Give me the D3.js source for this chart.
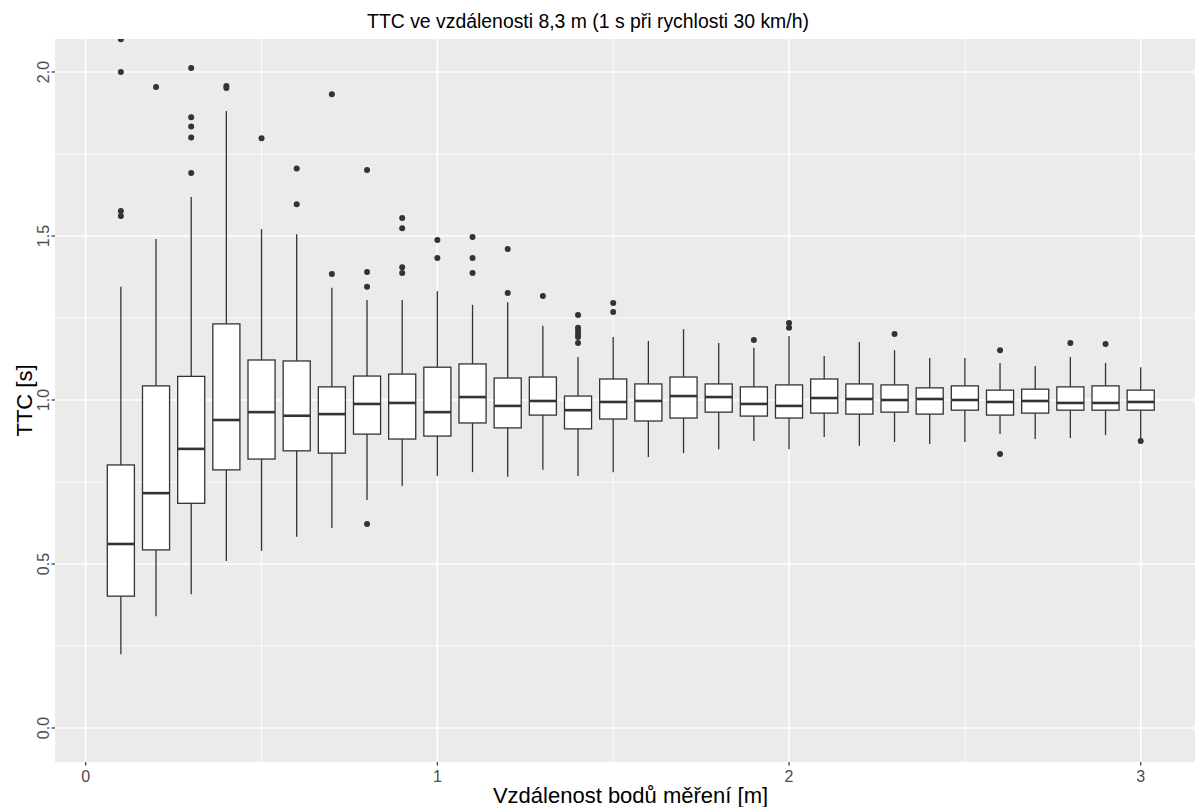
<!DOCTYPE html>
<html>
<head>
<meta charset="utf-8">
<script src="https://cdn.jsdelivr.net/npm/d3@7"></script>
<style>
  body { margin: 0; background: #fff; }
  svg { display: block; font-family: "Liberation Sans", Arial, sans-serif; }
</style>
</head>
<body>
<svg id="chart" width="1195" height="807"></svg>
<script>
// measurement distances [m]
const distances = [0.1, 0.2, 0.3, 0.4, 0.5, 0.6, 0.7, 0.8, 0.9, 1.0,
  1.1, 1.2, 1.3, 1.4, 1.5, 1.6, 1.7, 1.8, 1.9, 2.0,
  2.1, 2.2, 2.3, 2.4, 2.5, 2.6, 2.7, 2.8, 2.9, 3.0];

// box statistics, TTC [s]
const whiskerLow = [0.225, 0.341, 0.408, 0.509, 0.540, 0.583, 0.610, 0.695, 0.738, 0.768,
  0.780, 0.766, 0.787, 0.768, 0.780, 0.826, 0.838, 0.850, 0.875, 0.850,
  0.887, 0.860, 0.872, 0.866, 0.872, 0.896, 0.881, 0.884, 0.893, 0.881];
const q1 = [0.402, 0.543, 0.685, 0.787, 0.820, 0.845, 0.838, 0.896, 0.881, 0.890,
  0.930, 0.915, 0.954, 0.912, 0.942, 0.936, 0.945, 0.963, 0.951, 0.945,
  0.960, 0.957, 0.963, 0.957, 0.969, 0.954, 0.960, 0.969, 0.969, 0.969];
const median = [0.561, 0.716, 0.851, 0.939, 0.963, 0.952, 0.957, 0.988, 0.991, 0.963,
  1.009, 0.982, 0.997, 0.969, 0.994, 0.997, 1.012, 1.009, 0.988, 0.982,
  1.006, 1.003, 1.000, 1.003, 1.000, 0.994, 0.997, 0.991, 0.991, 0.994];
const q3 = [0.802, 1.043, 1.072, 1.232, 1.122, 1.119, 1.040, 1.073, 1.079, 1.100,
  1.110, 1.067, 1.070, 1.012, 1.064, 1.049, 1.070, 1.049, 1.040, 1.046,
  1.064, 1.049, 1.046, 1.037, 1.043, 1.030, 1.033, 1.040, 1.043, 1.030];
const whiskerHigh = [1.345, 1.491, 1.619, 1.881, 1.521, 1.505, 1.342, 1.305, 1.305, 1.332,
  1.290, 1.298, 1.226, 1.131, 1.192, 1.180, 1.216, 1.174, 1.159, 1.195,
  1.134, 1.177, 1.152, 1.128, 1.128, 1.113, 1.104, 1.131, 1.113, 1.100];
const outliers = [
  [1.561, 1.576, 2.0, 2.1],
  [1.954],
  [1.692, 1.80, 1.834, 1.862, 2.012],
  [1.951, 1.957],
  [1.798],
  [1.597, 1.706],
  [1.384, 1.932],
  [0.622, 1.345, 1.39, 1.701],
  [1.387, 1.405, 1.524, 1.555],
  [1.433, 1.488],
  [1.387, 1.433, 1.497],
  [1.326, 1.46],
  [1.317],
  [1.174, 1.192, 1.20, 1.21, 1.22, 1.259],
  [1.268, 1.296],
  [], [], [],
  [1.183],
  [1.22, 1.235],
  [], [],
  [1.201],
  [], [],
  [0.835, 1.152],
  [],
  [1.174],
  [1.171],
  [0.875]
];

const xTicks = [0, 1, 2, 3];
const xMinor = [0.5, 1.5, 2.5];
const yTicks = [0, 0.5, 1, 1.5, 2];
const yMinor = [0.25, 0.75, 1.25, 1.75];

const title = 'TTC ve vzdálenosti 8,3 m (1 s při rychlosti 30 km/h)';
const xTitle = 'Vzdálenost bodů měření [m]';
const yTitle = 'TTC [s]';

const panel = { left: 55, top: 39, right: 1195, bottom: 762 };
const boxWidth = 0.077;

const svg = d3.select('#chart');
const x = d3.scaleLinear().domain([0, 3]).range([85.7, 1140.7]);
const y = d3.scaleLinear().domain([0, 2]).range([728, 72]);

// panel background
svg.append('rect')
  .attr('x', panel.left).attr('y', panel.top)
  .attr('width', panel.right - panel.left)
  .attr('height', panel.bottom - panel.top)
  .attr('fill', '#EBEBEB');

const grid = svg.append('g');
yMinor.forEach((v) => {
  grid.append('line').attr('x1', panel.left).attr('x2', panel.right)
    .attr('y1', y(v)).attr('y2', y(v))
    .attr('stroke', '#fff').attr('stroke-width', 0.8);
});
xMinor.forEach((v) => {
  grid.append('line').attr('y1', panel.top).attr('y2', panel.bottom)
    .attr('x1', x(v)).attr('x2', x(v))
    .attr('stroke', '#fff').attr('stroke-width', 0.8);
});
yTicks.forEach((v) => {
  grid.append('line').attr('x1', panel.left).attr('x2', panel.right)
    .attr('y1', y(v)).attr('y2', y(v))
    .attr('stroke', '#fff').attr('stroke-width', 1.5);
});
xTicks.forEach((v) => {
  grid.append('line').attr('y1', panel.top).attr('y2', panel.bottom)
    .attr('x1', x(v)).attr('x2', x(v))
    .attr('stroke', '#fff').attr('stroke-width', 1.5);
});

// clip marks to the panel
svg.append('clipPath').attr('id', 'clip')
  .append('rect')
  .attr('x', panel.left).attr('y', panel.top)
  .attr('width', panel.right - panel.left)
  .attr('height', panel.bottom - panel.top);

const plot = svg.append('g').attr('clip-path', 'url(#clip)');
const stroke = '#333333';
const half = (x(boxWidth) - x(0)) / 2;

distances.forEach((d, i) => {
  const cx = x(d);
  const g = plot.append('g');
  // whiskers
  g.append('line').attr('x1', cx).attr('x2', cx)
    .attr('y1', y(q3[i])).attr('y2', y(whiskerHigh[i]))
    .attr('stroke', stroke).attr('stroke-width', 1.3);
  g.append('line').attr('x1', cx).attr('x2', cx)
    .attr('y1', y(q1[i])).attr('y2', y(whiskerLow[i]))
    .attr('stroke', stroke).attr('stroke-width', 1.3);
  // box
  g.append('rect')
    .attr('x', cx - half).attr('width', half * 2)
    .attr('y', y(q3[i])).attr('height', y(q1[i]) - y(q3[i]))
    .attr('fill', '#fff').attr('stroke', stroke).attr('stroke-width', 1.3);
  // median
  g.append('line').attr('x1', cx - half).attr('x2', cx + half)
    .attr('y1', y(median[i])).attr('y2', y(median[i]))
    .attr('stroke', stroke).attr('stroke-width', 2.6);
  // outliers
  outliers[i].forEach((o) => {
    g.append('circle').attr('cx', cx).attr('cy', y(o)).attr('r', 3)
      .attr('fill', stroke);
  });
});

// axes
const axisColor = '#4D4D4D';
const xAxis = svg.append('g');
xTicks.forEach((v) => {
  xAxis.append('line').attr('x1', x(v)).attr('x2', x(v))
    .attr('y1', panel.bottom).attr('y2', panel.bottom + 3.5)
    .attr('stroke', stroke).attr('stroke-width', 1.2);
  xAxis.append('text').attr('x', x(v)).attr('y', panel.bottom + 20)
    .attr('text-anchor', 'middle').attr('font-size', 16)
    .attr('fill', axisColor).text(d3.format('d')(v));
});

const yAxis = svg.append('g');
yTicks.forEach((v) => {
  yAxis.append('line').attr('x1', panel.left - 3.5).attr('x2', panel.left)
    .attr('y1', y(v)).attr('y2', y(v))
    .attr('stroke', stroke).attr('stroke-width', 1.2);
  yAxis.append('text')
    .attr('transform', `translate(${panel.left - 6},${y(v)}) rotate(-90)`)
    .attr('text-anchor', 'middle').attr('font-size', 16)
    .attr('fill', axisColor).text(d3.format('.1f')(v));
});

// titles
svg.append('text').attr('x', 588).attr('y', 28)
  .attr('text-anchor', 'middle').attr('font-size', 19.4)
  .attr('fill', '#000').text(title);

svg.append('text').attr('x', (panel.left + 1206) / 2).attr('y', 803)
  .attr('text-anchor', 'middle').attr('font-size', 22)
  .attr('fill', '#000').text(xTitle);

svg.append('text')
  .attr('transform', `translate(32,${(panel.top + panel.bottom) / 2}) rotate(-90)`)
  .attr('text-anchor', 'middle').attr('font-size', 22)
  .attr('fill', '#000').text(yTitle);
</script>
</body>
</html>
